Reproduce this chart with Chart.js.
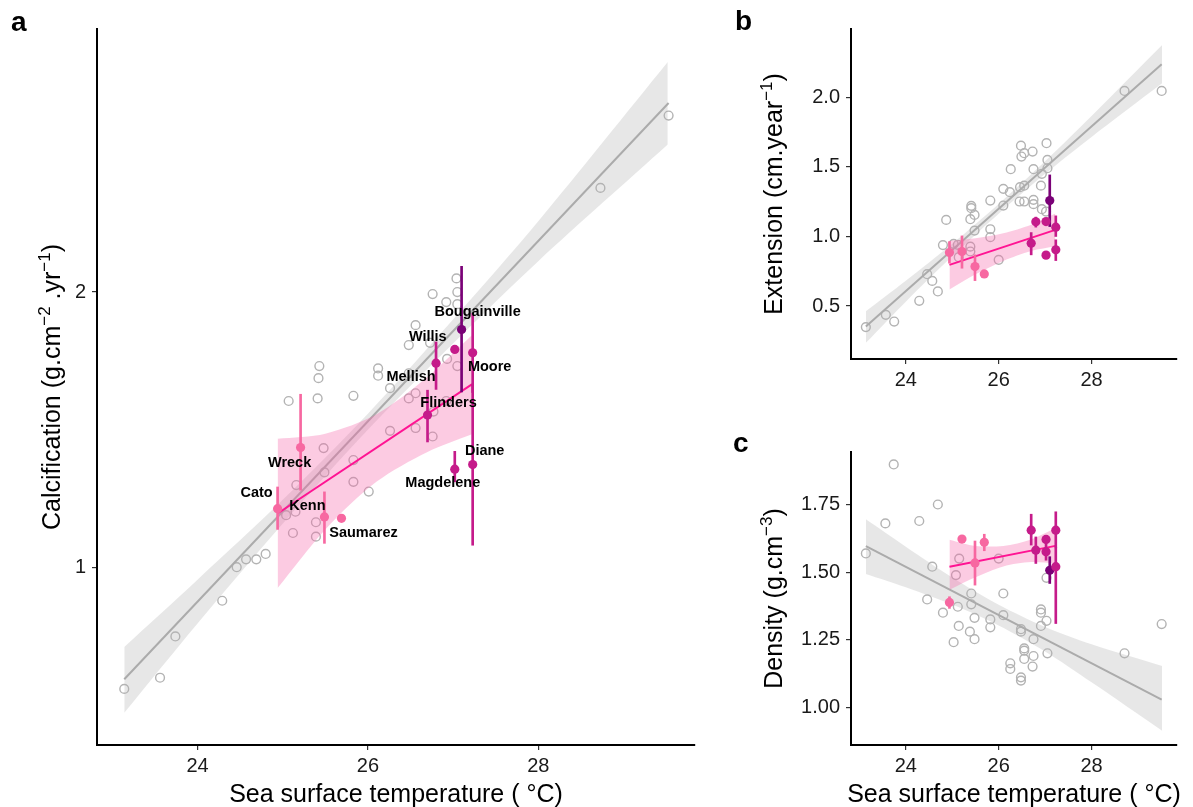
<!DOCTYPE html>
<html>
<head>
<meta charset="utf-8">
<script src="https://cdn.jsdelivr.net/npm/chart.js@4.4.1/dist/chart.umd.min.js"></script>
<style>
  body { margin: 0; background: #fff; width: 1193px; height: 807px; position: relative; overflow: hidden; }
  canvas { position: absolute; }
  #chartA { left: 0; top: 0; }
  #chartB { left: 725px; top: 0; }
  #chartC { left: 725px; top: 415px; }
</style>
</head>
<body>
<canvas id="chartA" width="720" height="807"></canvas>
<canvas id="chartB" width="468" height="415"></canvas>
<canvas id="chartC" width="468" height="392"></canvas>
<script>
const FONT = "'Liberation Sans', Arial, Helvetica, sans-serif";

/* ---- shared x axis ---- */
const sstTicks = [24, 26, 28];
const sstMin = 22.82;
const sstMax = 29.84;

/* ---- reefs (coloured points) ---- */
const reefNames = ["Cato", "Wreck", "Kenn", "Saumarez", "Flinders", "Mellish", "Willis", "Bougainville", "Moore", "Diane", "Magdelene"];
const reefSST = [24.94, 25.21, 25.49, 25.69, 26.70, 26.80, 27.02, 27.10, 27.23, 27.23, 27.02];

const calcMean = [1.159, 1.352, 1.135, 1.131, 1.467, 1.672, 1.731, 1.82, 1.716, 1.295, 1.28];
const calcLo   = [1.10, 1.214, 1.062, 1.131, 1.371, 1.565, 1.731, 1.555, 1.553, 1.057, 1.24];
const calcHi   = [1.224, 1.546, 1.209, 1.131, 1.562, 1.764, 1.731, 2.134, 1.895, 1.587, 1.339];

const extMean = [0.885, 0.892, 0.784, 0.731, 0.952, 1.105, 1.107, 1.258, 1.067, 0.904, 0.866];
const extLo   = [0.808, 0.772, 0.683, 0.731, 0.868, 1.067, 1.107, 1.071, 1.0, 0.827, 0.866];
const extHi   = [0.963, 1.004, 0.868, 0.731, 1.028, 1.139, 1.107, 1.442, 1.148, 0.976, 0.866];

const densMean = [1.388, 1.622, 1.534, 1.61, 1.655, 1.581, 1.621, 1.507, 1.655, 1.52, 1.575];
const densLo   = [1.366, 1.622, 1.452, 1.579, 1.6, 1.532, 1.621, 1.458, 1.59, 1.31, 1.544];
const densHi   = [1.409, 1.622, 1.615, 1.64, 1.714, 1.63, 1.621, 1.557, 1.723, 1.59, 1.606];

/* ---- historical records (grey circles) ---- */
const calcGrayX = [27.04, 26.76, 27.05, 26.92, 27.05, 26.56, 26.48, 26.73, 26.93, 27.05, 25.43, 25.42, 26.12, 26.12, 26.48, 25.83, 25.41, 25.07, 26.26, 26.48, 26.56, 26.92, 26.77, 26.26, 26.56, 26.76, 25.48, 25.83, 25.49, 25.16, 25.83, 26.01, 25.15, 25.04, 25.39, 25.12, 25.39, 24.80, 24.69, 24.57, 24.46, 24.29, 23.74, 23.56, 23.14, 28.73, 29.53];
const calcGrayY = [2.07, 1.99, 2.00, 1.95, 1.94, 1.84, 1.75, 1.76, 1.69, 1.66, 1.66, 1.61, 1.65, 1.62, 1.63, 1.54, 1.53, 1.52, 1.57, 1.53, 1.55, 1.52, 1.48, 1.41, 1.42, 1.39, 1.35, 1.31, 1.27, 1.23, 1.24, 1.21, 1.15, 1.14, 1.12, 1.09, 1.08, 1.034, 1.02, 1.02, 1.00, 0.919, 0.84, 0.757, 0.736, 2.60, 3.12];

const extGrayX = [28.71, 29.51, 26.48, 27.03, 26.55, 26.73, 26.49, 26.26, 26.75, 27.05, 27.05, 26.93, 26.10, 26.24, 26.46, 26.55, 26.91, 25.82, 26.10, 26.45, 26.55, 26.75, 26.75, 26.93, 27.02, 25.41, 25.41, 25.48, 25.39, 24.87, 25.48, 25.82, 25.82, 24.80, 25.03, 25.12, 25.39, 25.39, 25.14, 26.0, 24.46, 24.57, 24.29, 24.69, 23.14, 23.57, 23.75];
const extGrayY = [2.045, 2.045, 1.652, 1.670, 1.598, 1.61, 1.574, 1.483, 1.483, 1.55, 1.49, 1.45, 1.342, 1.318, 1.354, 1.365, 1.365, 1.258, 1.222, 1.251, 1.251, 1.263, 1.232, 1.196, 1.179, 1.22, 1.203, 1.155, 1.124, 1.119, 1.042, 1.052, 0.995, 0.938, 0.947, 0.94, 0.927, 0.892, 0.851, 0.832, 0.729, 0.681, 0.538, 0.605, 0.349, 0.437, 0.389];

const densGrayX = [23.74, 23.14, 23.56, 24.29, 24.69, 24.57, 25.15, 26.0, 25.08, 27.03, 24.46, 25.41, 25.41, 26.10, 24.80, 25.12, 25.48, 25.82, 26.10, 26.91, 26.91, 27.03, 26.91, 25.14, 25.03, 25.38, 25.48, 25.82, 26.48, 26.48, 26.75, 26.55, 26.55, 27.05, 26.75, 26.55, 26.25, 26.25, 26.73, 26.48, 26.48, 28.71, 29.51];
const densGrayY = [1.898, 1.569, 1.68, 1.689, 1.75, 1.52, 1.55, 1.55, 1.489, 1.479, 1.399, 1.421, 1.381, 1.421, 1.35, 1.372, 1.331, 1.325, 1.341, 1.362, 1.35, 1.32, 1.301, 1.301, 1.241, 1.28, 1.252, 1.296, 1.289, 1.28, 1.252, 1.218, 1.21, 1.2, 1.19, 1.179, 1.163, 1.142, 1.151, 1.111, 1.099, 1.2, 1.308];

/* ---- fitted lines and confidence bands ---- */
const grayBandX = [23.14, 24, 25, 26, 27, 28, 29.52];
const calcFitX = [23.14, 29.53];
const calcFitY = [0.754, 3.22];
const calcBandHi = [0.818, 0.969, 1.185, 1.472, 1.866, 2.390, 3.57];
const calcBandLo = [0.693, 0.868, 1.116, 1.414, 1.757, 2.162, 2.90];

const extFitX = [23.14, 29.51];
const extFitY = [0.353, 2.237];
const extBandHi = [0.463, 0.682, 0.948, 1.234, 1.54, 1.865, 2.375];
const extBandLo = [0.236, 0.532, 0.858, 1.164, 1.45, 1.715, 2.10];

const densFitX = [23.14, 29.51];
const densFitY = [1.596, 1.029];
const densBandHi = [1.695, 1.594, 1.48, 1.379, 1.297, 1.233, 1.153];
const densBandLo = [1.493, 1.444, 1.38, 1.303, 1.207, 1.093, 0.914];

const reefBandX = [24.94, 25.5, 26.1, 26.7, 27.22];
const calcReefFitY = [1.145, 1.585];
const calcReefBandHi = [1.382, 1.40, 1.47, 1.616, 1.794];
const calcReefBandLo = [0.949, 1.10, 1.24, 1.337, 1.398];

const extReefFitY = [0.796, 1.047];
const extReefBandHi = [0.97, 0.988, 1.024, 1.085, 1.165];
const extReefBandLo = [0.62, 0.728, 0.824, 0.895, 0.929];

const densReefFitY = [1.52, 1.597];
const densReefBandHi = [1.62, 1.597, 1.597, 1.621, 1.662];
const densReefBandLo = [1.435, 1.481, 1.521, 1.537, 1.532];

const calcTicks = [1, 2];
const extTicks = [0.5, 1.0, 1.5, 2.0];
const densTicks = [1.00, 1.25, 1.50, 1.75];

/* ---- styling ---- */
const reefColor = ["#F768A1", "#F768A1", "#F768A1", "#F768A1", "#C51B8A", "#C51B8A", "#C51B8A", "#7A0177", "#C51B8A", "#C51B8A", "#C51B8A"];
const labelOffset = [[-21, -16], [-11, 15], [-17, -11], [22, 15], [21, -12], [-25, 14], [-27, -12], [16, -18], [17, 14], [12, -14], [-12, 14]];
const GRAY_FILL = "rgba(175,175,175,0.3)";
const PINK_FILL = "rgba(247,104,170,0.34)";

Chart.defaults.font.family = FONT;
Chart.defaults.color = "#1a1a1a";
Chart.defaults.animation = false;

const pts = (xs, ys) => xs.map((x, i) => ({ x, y: ys[i] }));
const bandX = [reefBandX[0], reefBandX[reefBandX.length - 1]];

function drawRich(ctx, parts, cx, y) {
  let total = 0;
  const widths = parts.map(p => {
    ctx.font = (p.sup ? 17 : 25) + "px " + FONT;
    const w = ctx.measureText(p.t).width;
    total += w;
    return w;
  });
  let x = cx - total / 2;
  ctx.textAlign = "left";
  ctx.textBaseline = "alphabetic";
  parts.forEach((p, i) => {
    ctx.font = (p.sup ? 17 : 25) + "px " + FONT;
    ctx.fillText(p.t, x, p.sup ? y - 10 : y);
    x += widths[i];
  });
}

function textPlugin(cfg) {
  return {
    id: "panelText",
    afterDraw(chart) {
      const ctx = chart.ctx;
      const area = chart.chartArea;
      ctx.save();
      ctx.fillStyle = "#000";
      ctx.font = "bold 28px " + FONT;
      ctx.textAlign = "left";
      ctx.textBaseline = "alphabetic";
      ctx.fillText(cfg.letter, cfg.letterX, cfg.letterY);

      ctx.save();
      ctx.translate(cfg.yTitleX, (area.top + area.bottom) / 2);
      ctx.rotate(-Math.PI / 2);
      drawRich(ctx, cfg.yTitle, 0, 0);
      ctx.restore();

      if (cfg.xTitleY) {
        drawRich(ctx, [{ t: "Sea surface temperature ( °C)" }], (area.left + area.right) / 2, cfg.xTitleY);
      }

      if (cfg.labels) {
        const meta = chart.getDatasetMeta(8);
        ctx.font = "bold 14.5px " + FONT;
        ctx.textAlign = "center";
        ctx.textBaseline = "middle";
        reefNames.forEach((name, i) => {
          const el = meta.data[i];
          ctx.fillText(name, el.x + labelOffset[i][0], el.y + labelOffset[i][1]);
        });
      }
      ctx.restore();
    }
  };
}

function axisBase(ticksArr, fmt, extra) {
  return Object.assign({
    offset: false,
    bounds: "data",
    afterBuildTicks: s => { s.ticks = ticksArr.map(v => ({ value: v })); },
    border: { display: true, color: "#000", width: 2 },
    grid: { display: true, offset: false, drawOnChartArea: false, drawTicks: true, tickLength: 5, color: "#333", lineWidth: 1.2 },
    ticks: { autoSkip: false, maxRotation: 0, font: { size: 20 }, color: "#1a1a1a", callback: v => fmt(v) }
  }, extra);
}

function buildPanel(id, p) {
  const datasets = [
    { type: "line", data: pts(grayBandX, p.bandHi), borderColor: "transparent", borderWidth: 0, pointRadius: 0, fill: "+1", backgroundColor: GRAY_FILL, tension: 0.3, order: 10 },
    { type: "line", data: pts(grayBandX, p.bandLo), borderColor: "transparent", borderWidth: 0, pointRadius: 0, fill: false, tension: 0.3, order: 10 },
    { type: "scatter", data: pts(p.grayX, p.grayY), pointRadius: 4.4, pointBorderColor: "#b3b3b3", pointBackgroundColor: "rgba(0,0,0,0)", pointBorderWidth: 1.4, order: 9 },
    { type: "line", data: pts(p.fitX, p.fitY), borderColor: "#ababab", borderWidth: 2, pointRadius: 0, fill: false, order: 8 },
    { type: "line", data: pts(reefBandX, p.reefHi), borderColor: "transparent", borderWidth: 0, pointRadius: 0, fill: "+1", backgroundColor: PINK_FILL, tension: 0.3, order: 7 },
    { type: "line", data: pts(reefBandX, p.reefLo), borderColor: "transparent", borderWidth: 0, pointRadius: 0, fill: false, tension: 0.3, order: 7 },
    { type: "line", data: pts(bandX, p.reefFit), borderColor: "#FF1493", borderWidth: 2, pointRadius: 0, fill: false, order: 6 },
    { type: "bar", data: reefSST.map((x, i) => ({ x, y: [p.lo[i], p.hi[i]] })), backgroundColor: reefColor, barThickness: 2, grouped: false, borderWidth: 0, order: 5 },
    { type: "scatter", data: pts(reefSST, p.mean), pointRadius: 4.6, pointBackgroundColor: reefColor, pointBorderWidth: 0, order: 4 }
  ];

  return new Chart(document.getElementById(id), {
    type: "scatter",
    data: { datasets },
    options: {
      responsive: false,
      layout: { padding: p.padding },
      plugins: { legend: { display: false }, tooltip: { enabled: false } },
      scales: {
        x: axisBase(sstTicks, v => String(v), {
          type: "linear", min: sstMin, max: sstMax,
          afterFit: s => { s.height = p.xHeight; },
          ticks: { autoSkip: false, maxRotation: 0, padding: 4, font: { size: 20 }, color: "#1a1a1a", callback: v => String(v) }
        }),
        y: axisBase(p.ticks, p.fmt, {
          type: p.yType, min: p.yMin, max: p.yMax,
          afterFit: s => { s.width = p.yWidth; },
          ticks: { autoSkip: false, padding: 6, font: { size: 20 }, color: "#1a1a1a", callback: v => p.fmt(v) }
        })
      }
    },
    plugins: [textPlugin(p.text)]
  });
}

buildPanel("chartA", {
  grayX: calcGrayX, grayY: calcGrayY, fitX: calcFitX, fitY: calcFitY,
  bandHi: calcBandHi, bandLo: calcBandLo,
  reefHi: calcReefBandHi, reefLo: calcReefBandLo, reefFit: calcReefFitY,
  mean: calcMean, lo: calcLo, hi: calcHi,
  ticks: calcTicks, fmt: v => String(v), yType: "logarithmic", yMin: 0.639, yMax: 3.88,
  padding: { left: 0, top: 29, right: 25, bottom: 0 }, xHeight: 62, yWidth: 97,
  text: {
    letter: "a", letterX: 11, letterY: 31, yTitleX: 60, xTitleY: 802, labels: true,
    yTitle: [{ t: "Calcification (g.cm" }, { t: "\u22122", sup: true }, { t: " .yr" }, { t: "\u22121", sup: true }, { t: ")" }]
  }
});

buildPanel("chartB", {
  grayX: extGrayX, grayY: extGrayY, fitX: extFitX, fitY: extFitY,
  bandHi: extBandHi, bandLo: extBandLo,
  reefHi: extReefBandHi, reefLo: extReefBandLo, reefFit: extReefFitY,
  mean: extMean, lo: extLo, hi: extHi,
  ticks: extTicks, fmt: v => v.toFixed(1), yType: "linear", yMin: 0.12, yMax: 2.49,
  padding: { left: 0, top: 29, right: 16, bottom: 0 }, xHeight: 56, yWidth: 126,
  text: {
    letter: "b", letterX: 10, letterY: 30, yTitleX: 57,
    yTitle: [{ t: "Extension (cm.year" }, { t: "\u22121", sup: true }, { t: ")" }]
  }
});

buildPanel("chartC", {
  grayX: densGrayX, grayY: densGrayY, fitX: densFitX, fitY: densFitY,
  bandHi: densBandHi, bandLo: densBandLo,
  reefHi: densReefBandHi, reefLo: densReefBandLo, reefFit: densReefFitY,
  mean: densMean, lo: densLo, hi: densHi,
  ticks: densTicks, fmt: v => v.toFixed(2), yType: "linear", yMin: 0.861, yMax: 1.944,
  padding: { left: 0, top: 37, right: 16, bottom: 0 }, xHeight: 62, yWidth: 126,
  text: {
    letter: "c", letterX: 8, letterY: 37, yTitleX: 57, xTitleY: 387,
    yTitle: [{ t: "Density (g.cm" }, { t: "\u22123", sup: true }, { t: ")" }]
  }
});
</script>
</body>
</html>
